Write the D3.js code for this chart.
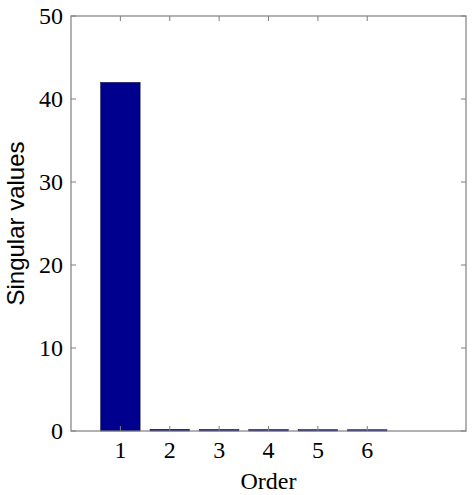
<!DOCTYPE html>
<html>
<head>
<meta charset="utf-8">
<script src="https://cdn.jsdelivr.net/npm/d3@7"></script>
<style>
    body { margin: 0; background: #fff; }
    svg { display: block; }
    .serif { font-family: "Liberation Serif", "Times New Roman", Times, "DejaVu Serif", serif; }
    .sans { font-family: "Liberation Sans", Arial, Helvetica, sans-serif; }
</style>
</head>
<body>
<svg id="chart" width="474" height="495"></svg>
<script>
// singular values by order
const orders = [1, 2, 3, 4, 5, 6];
const singularValues = [42, 0.2, 0.18, 0.17, 0.16, 0.15];
const yTicks = [0, 10, 20, 30, 40, 50];

const margin = {top: 16, right: 8, bottom: 64, left: 71};
const width = 474, height = 495;
const svg = d3.select('#chart');

const x = d3.scaleLinear().domain([0, 8]).range([margin.left, width - margin.right]);
const y = d3.scaleLinear().domain([0, 50]).range([height - margin.bottom, margin.top]);

const axisColor = '#7f7f7f';
const tickLen = 5;
const barWidth = 0.8;

// bars
svg.append('g')
  .selectAll('rect')
  .data(orders)
  .join('rect')
    .attr('x', (d) => x(d - barWidth / 2))
    .attr('width', (d) => x(d + barWidth / 2) - x(d - barWidth / 2))
    .attr('y', (d, i) => y(singularValues[i]))
    .attr('height', (d, i) => y(0) - y(singularValues[i]))
    .attr('fill', '#00008f')
    .attr('stroke', '#000030')
    .attr('stroke-width', 0.5);

// box
svg.append('rect')
    .attr('x', x(0))
    .attr('y', y(50))
    .attr('width', x(8) - x(0))
    .attr('height', y(0) - y(50))
    .attr('fill', 'none')
    .attr('stroke', axisColor)
    .attr('stroke-width', 1.2);

// inward ticks on all four sides (MATLAB style)
const ticks = svg.append('g').attr('stroke', axisColor).attr('stroke-width', 1);
orders.forEach((o) => {
    ticks.append('line').attr('x1', x(o)).attr('x2', x(o)).attr('y1', y(0)).attr('y2', y(0) - tickLen);
    ticks.append('line').attr('x1', x(o)).attr('x2', x(o)).attr('y1', y(50)).attr('y2', y(50) + tickLen);
});
yTicks.forEach((t) => {
    ticks.append('line').attr('x1', x(0)).attr('x2', x(0) + tickLen).attr('y1', y(t)).attr('y2', y(t));
    ticks.append('line').attr('x1', x(8)).attr('x2', x(8) - tickLen).attr('y1', y(t)).attr('y2', y(t));
});

// tick labels
svg.append('g')
  .selectAll('text')
  .data(orders)
  .join('text')
    .attr('class', 'serif')
    .attr('x', (d) => x(d))
    .attr('y', y(0) + 27)
    .attr('text-anchor', 'middle')
    .style('font-size', '24px')
    .text((d) => d);

svg.append('g')
  .selectAll('text')
  .data(yTicks)
  .join('text')
    .attr('class', 'serif')
    .attr('x', x(0) - 8)
    .attr('y', (d) => y(d) + 8)
    .attr('text-anchor', 'end')
    .style('font-size', '24px')
    .text((d) => d);

// axis titles
svg.append('text')
    .attr('class', 'serif')
    .attr('x', (x(0) + x(8)) / 2)
    .attr('y', 489)
    .attr('text-anchor', 'middle')
    .style('font-size', '24px')
    .text('Order');

svg.append('text')
    .attr('class', 'sans')
    .attr('transform', `translate(24, ${(y(0) + y(50)) / 2}) rotate(-90)`)
    .attr('text-anchor', 'middle')
    .style('font-size', '24px')
    .text('Singular values');
</script>
</body>
</html>
